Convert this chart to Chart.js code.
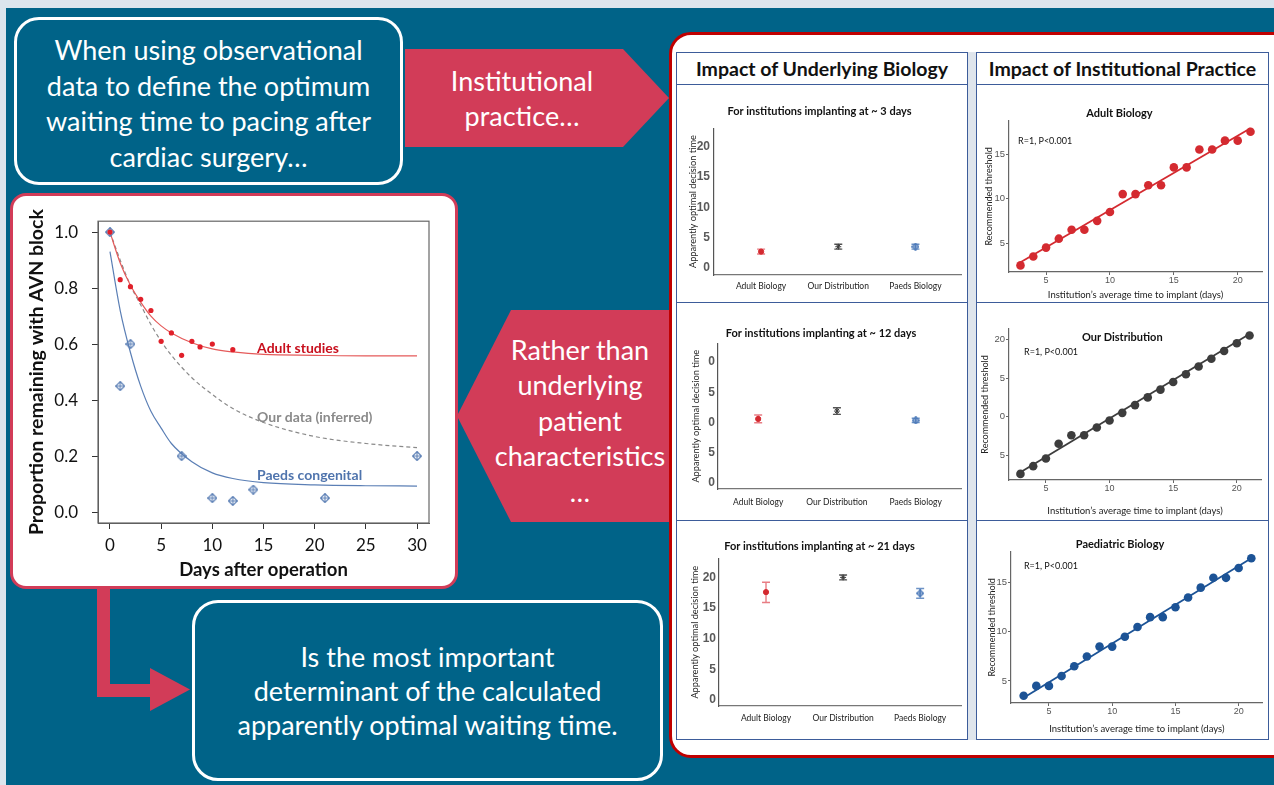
<!DOCTYPE html>
<html>
<head>
<meta charset="utf-8">
<script src="https://cdn.jsdelivr.net/npm/chart.js@4.4.0/dist/chart.umd.min.js"></script>
<style>
body { margin: 0; width: 1274px; height: 785px; overflow: hidden; background: #dce5ed; font-family: Lato, sans-serif; position: relative; }
.abs { position: absolute; box-sizing: border-box; }
#bg { left: 6px; top: 8px; width: 1268px; height: 777px; background: #006388; }
.box { border: 3px solid #fff; border-radius: 25px; color: #fff; display: flex; align-items: center; justify-content: center; text-align: center; font-size: 27px; line-height: 35.5px; white-space: nowrap; }
.arrow { background: #d23c58; color: #fff; display: flex; align-items: center; justify-content: center; text-align: center; font-size: 27px; line-height: 35.5px; white-space: nowrap; }
.bar { background: #d23c58; }
.cell { border: 1.5px solid #3d5c9a; background: #fff; }
.head { display: flex; align-items: center; justify-content: center; font-weight: 700; font-size: 19.5px; color: #111; white-space: nowrap; }
canvas { position: absolute; }
</style>
</head>
<body>
<div class="abs" id="bg"></div>

<div class="abs box" style="left:14px;top:17px;width:389px;height:168px;padding-top:4px;">When using observational<br>data to define the optimum<br>waiting time to pacing after<br>cardiac surgery…</div>

<div class="abs arrow" style="left:405px;top:49px;width:264px;height:98px;padding-right:30px;clip-path:polygon(0 0,218px 0,100% 50%,218px 100%,0 100%);">Institutional<br>practice…</div>

<div class="abs" style="left:10px;top:193px;width:448px;height:396px;background:#fff;border:3px solid #d23c58;border-radius:16px;"></div>

<div class="abs arrow" style="left:457px;top:310px;width:212px;height:212px;padding-left:34px;padding-top:9px;clip-path:polygon(0 50%,54px 0,100% 0,100% 100%,54px 100%);">Rather than<br>underlying<br>patient<br>characteristics<br>…</div>

<div class="abs bar" style="left:97px;top:588px;width:13px;height:109px;"></div>
<div class="abs bar" style="left:97px;top:684px;width:55px;height:13px;"></div>
<div class="abs bar" style="left:150px;top:668px;width:40px;height:43px;clip-path:polygon(0 0,100% 50%,0 100%);"></div>

<div class="abs box" style="left:192px;top:600px;width:471px;height:181px;border-radius:26px;line-height:34px;">Is the most important<br>determinant of the calculated<br>apparently optimal waiting time.</div>

<div class="abs" style="left:669px;top:32px;width:640px;height:726px;background:#fff;border:3px solid #c00000;border-radius:22px;"></div>
<div class="abs" style="left:968px;top:52px;width:8px;height:688px;background:#dfe5ec;"></div>
<div class="abs cell head" style="left:676px;top:52px;width:292px;height:33px;">Impact of Underlying Biology</div>
<div class="abs cell head" style="left:976px;top:52px;width:293px;height:33px;">Impact of Institutional Practice</div>
<div class="abs cell" style="left:676px;top:84px;width:292px;height:219px;"></div>
<div class="abs cell" style="left:676px;top:302px;width:292px;height:219px;"></div>
<div class="abs cell" style="left:676px;top:520px;width:292px;height:220px;"></div>
<div class="abs cell" style="left:976px;top:84px;width:293px;height:219px;"></div>
<div class="abs cell" style="left:976px;top:302px;width:293px;height:219px;"></div>
<div class="abs cell" style="left:976px;top:520px;width:293px;height:220px;"></div>

<canvas id="cBig" width="440" height="388" style="left:14px;top:197px;"></canvas>
<canvas id="cL1" width="289" height="215" style="left:677px;top:86px;"></canvas>
<canvas id="cL2" width="289" height="216" style="left:677px;top:303px;"></canvas>
<canvas id="cL3" width="289" height="218" style="left:677px;top:521px;"></canvas>
<canvas id="cR1" width="290" height="215" style="left:977px;top:86px;"></canvas>
<canvas id="cR2" width="290" height="216" style="left:977px;top:303px;"></canvas>
<canvas id="cR3" width="290" height="218" style="left:977px;top:521px;"></canvas>

<script>
// survival plot (left)
const adultDays = [0, 1, 2, 3, 4, 5, 6, 7, 8, 8.8, 10, 12];
const adultProp = [1.0, 0.83, 0.805, 0.76, 0.72, 0.61, 0.64, 0.56, 0.61, 0.59, 0.60, 0.58];
const paedsDays = [0, 1, 2, 7, 10, 12, 14, 21, 30];
const paedsProp = [1.0, 0.45, 0.60, 0.20, 0.05, 0.04, 0.08, 0.05, 0.20];
const fitDays = [0, 1, 2, 3, 4, 5, 6, 8, 10, 12, 15, 20, 25, 30];
const adultFit = [1.0, 0.89, 0.81, 0.75, 0.70, 0.665, 0.64, 0.605, 0.583, 0.572, 0.563, 0.56, 0.558, 0.558];
const oursFit = [1.0, 0.90, 0.81, 0.74, 0.67, 0.61, 0.56, 0.48, 0.42, 0.37, 0.32, 0.27, 0.245, 0.23];
const paedsFit = [0.93, 0.72, 0.57, 0.45, 0.36, 0.30, 0.245, 0.18, 0.14, 0.12, 0.105, 0.097, 0.094, 0.093];
const bigXTicks = [0, 5, 10, 15, 20, 25, 30];
const bigYTicks = [0, 0.2, 0.4, 0.6, 0.8, 1.0];

// decision time by biology
const biologies = ['Adult Biology', 'Our Distribution', 'Paeds Biology'];
const day3Mid = [2.7, 3.5, 3.5];
const day3Lo = [2.3, 3.1, 3.1];
const day3Hi = [3.1, 3.9, 3.9];
const day12Mid = [10.6, 11.9, 10.35];
const day12Lo = [9.97, 11.35, 10.0];
const day12Hi = [11.25, 12.45, 10.7];
const day21Mid = [17.6, 20.0, 17.4];
const day21Lo = [15.9, 19.6, 16.6];
const day21Hi = [19.2, 20.4, 18.2];
const decisionTicks = [0, 5, 10, 15, 20];
const day12TickText = ['0', '5', '0', '5', '0'];

// threshold vs implant time
const implantDays = [3, 4, 5, 6, 7, 8, 9, 10, 11, 12, 13, 14, 15, 16, 17, 18, 19, 20, 21];
const adultThreshold = [2.5, 3.5, 4.5, 5.5, 6.5, 6.5, 7.5, 8.5, 10.5, 10.5, 11.5, 11.5, 13.5, 13.5, 15.5, 15.5, 16.5, 16.5, 17.5];
const oursThreshold = [2.6, 3.6, 4.6, 6.5, 7.6, 7.6, 8.6, 9.5, 10.5, 11.5, 12.5, 13.5, 14.5, 15.5, 16.5, 17.5, 18.5, 19.5, 20.5];
const paedsThreshold = [3.5, 4.5, 4.5, 5.5, 6.5, 7.5, 8.5, 8.5, 9.5, 10.5, 11.5, 11.5, 12.5, 13.5, 14.5, 15.5, 15.5, 16.5, 17.5];
const lineEnds = [3, 21];
const adultLine = [2.85, 17.9];
const oursLine = [2.8, 20.7];
const paedsLine = [3.3, 17.5];
const implantXTicks = [5, 10, 15, 20];
const thresholdTicks = [5, 10, 15];
const oursTicks = [5, 10, 15, 20];
const oursTickText = ['5', '0', '5', '20'];

const RED = '#d42a30';
const GREY = '#3d3d3d';
const BLUE = '#4a78b8';
const DARKBLUE = '#1c5396';

Chart.defaults.font.family = 'Lato';
Chart.defaults.animation = false;
Chart.defaults.plugins.legend.display = false;
Chart.defaults.plugins.tooltip.enabled = false;

const errorBars = {
    id: 'errorBars',
    beforeDatasetsDraw(chart, args, opts) {
        if (!opts.lo) return;
        const {ctx, scales: {x, y}} = chart;
        ctx.save();
        ctx.lineWidth = 1.4;
        opts.lo.forEach((lo, i) => {
            const px = x.getPixelForValue(i);
            const top = y.getPixelForValue(opts.hi[i]);
            const bot = y.getPixelForValue(lo);
            ctx.strokeStyle = opts.colors[i];
            ctx.beginPath();
            ctx.moveTo(px, top); ctx.lineTo(px, bot);
            ctx.moveTo(px - 4, top); ctx.lineTo(px + 4, top);
            ctx.moveTo(px - 4, bot); ctx.lineTo(px + 4, bot);
            ctx.stroke();
        });
        ctx.restore();
    }
};

const notes = {
    id: 'notes',
    afterDraw(chart, args, opts) {
        if (!opts.items) return;
        const {ctx, scales: {x, y}} = chart;
        opts.items.forEach(n => {
            ctx.save();
            ctx.font = n.font;
            ctx.fillStyle = n.color;
            ctx.textAlign = n.align || 'left';
            ctx.textBaseline = 'middle';
            ctx.fillText(n.text, x.getPixelForValue(n.x), y.getPixelForValue(n.y));
            ctx.restore();
        });
    }
};

const frame = {
    id: 'frame',
    afterDraw(chart, args, opts) {
        if (!opts.color) return;
        const {ctx, chartArea: a} = chart;
        ctx.save();
        ctx.strokeStyle = opts.color;
        ctx.lineWidth = 1.2;
        ctx.strokeRect(a.left, a.top, a.right - a.left, a.bottom - a.top);
        ctx.restore();
    }
};

Chart.register(errorBars, notes, frame);

function diamondCross(size, color) {
    const c = document.createElement('canvas');
    c.width = c.height = size;
    const g = c.getContext('2d');
    const h = size / 2;
    g.strokeStyle = color;
    g.lineWidth = 1.1;
    g.beginPath();
    g.moveTo(h, 0.5); g.lineTo(size - 0.5, h); g.lineTo(h, size - 0.5); g.lineTo(0.5, h); g.closePath();
    g.moveTo(h, 0.5); g.lineTo(h, size - 0.5);
    g.moveTo(0.5, h); g.lineTo(size - 0.5, h);
    g.stroke();
    return c;
}

function pts(xs, ys) {
    return xs.map((x, i) => ({x: x, y: ys[i]}));
}

function fixTicks(list) {
    return scale => { scale.ticks = list.map(v => ({value: v})); };
}

// ---- survival plot ----
new Chart(document.getElementById('cBig'), {
    type: 'line',
    data: {
        datasets: [
            {data: pts(adultDays, adultProp), showLine: false, pointRadius: 2.6, pointBackgroundColor: '#e0202a', pointBorderWidth: 0, order: 1},
            {data: pts(paedsDays, paedsProp), showLine: false, pointStyle: diamondCross(10, '#5b7fb5'), order: 2},
            {data: pts(fitDays, adultFit), borderColor: '#e55a5a', borderWidth: 1.2, pointRadius: 0, cubicInterpolationMode: 'monotone', order: 3},
            {data: pts(fitDays, oursFit), borderColor: '#8a8a8a', borderWidth: 1.2, borderDash: [4, 3], pointRadius: 0, cubicInterpolationMode: 'monotone', order: 4},
            {data: pts(fitDays, paedsFit), borderColor: '#5b7fb5', borderWidth: 1.2, pointRadius: 0, cubicInterpolationMode: 'monotone', order: 5},
        ]
    },
    options: {
        responsive: false,
        layout: {padding: {left: 0, top: 21, right: 25, bottom: 0}},
        scales: {
            x: {
                type: 'linear', min: -1.17, max: 31.17,
                afterBuildTicks: fixTicks(bigXTicks),
                afterFit: s => { s.height = 62; },
                grid: {drawOnChartArea: false, tickLength: 6, color: '#333'},
                border: {color: '#555'},
                ticks: {color: '#111', font: {size: 17}, padding: 6},
                title: {display: true, text: 'Days after operation', color: '#111', font: {size: 18.5, weight: 'bold'}, padding: {top: 0, bottom: 4}}
            },
            y: {
                min: -0.039, max: 1.039,
                afterBuildTicks: fixTicks(bigYTicks),
                afterFit: s => { s.width = 84; },
                grid: {drawOnChartArea: false, tickLength: 6, color: '#333'},
                border: {color: '#555'},
                ticks: {color: '#111', font: {size: 17}, padding: 14, callback: v => v.toFixed(1)},
                title: {display: true, text: 'Proportion remaining with AVN block', color: '#111', font: {size: 19.5, weight: 'bold'}, padding: {top: 11, bottom: 0}}
            }
        },
        plugins: {
            frame: {color: '#666'},
            notes: {items: [
                {text: 'Adult studies', x: 14.37, y: 0.583, font: 'bold 14px Lato', color: '#c8101e'},
                {text: 'Our data (inferred)', x: 14.37, y: 0.339, font: 'bold 14px Lato', color: '#8a8a8a'},
                {text: 'Paeds congenital', x: 14.37, y: 0.131, font: 'bold 14px Lato', color: '#4f74ad'},
            ]}
        }
    }
});

// ---- decision time panels ----
function decisionChart(id, cfg) {
    const markers = [
        {style: 'circle', radius: 2.6, bg: RED, border: RED},
        {style: 'star', radius: 3, bg: GREY, border: GREY},
        {style: diamondCross(8, BLUE), radius: 4, bg: BLUE, border: BLUE},
    ];
    return new Chart(document.getElementById(id), {
        type: 'scatter',
        data: {
            datasets: [{
                data: cfg.mid.map((v, i) => ({x: i, y: v})),
                pointStyle: markers.map(m => m.style),
                pointRadius: markers.map(m => m.radius),
                pointBackgroundColor: markers.map(m => m.bg),
                pointBorderColor: markers.map(m => m.border),
                pointBorderWidth: 1
            }]
        },
        options: {
            responsive: false,
            layout: {padding: {left: 0, top: 0, right: cfg.padRight, bottom: 0}},
            scales: {
                x: {
                    type: 'linear', min: cfg.xMin, max: cfg.xMax,
                    afterBuildTicks: fixTicks([0, 1, 2]),
                    afterFit: s => { s.height = cfg.xHeight; },
                    grid: {display: false, drawTicks: false},
                    border: {color: '#777', width: 1.2},
                    ticks: {color: '#222', font: {size: 8.5}, padding: cfg.xPad, callback: v => biologies[v]}
                },
                y: {
                    min: cfg.yMin, max: cfg.yMax,
                    afterBuildTicks: fixTicks(decisionTicks),
                    afterFit: s => { s.width = cfg.yWidth; },
                    grid: {display: false, drawTicks: false},
                    border: {color: '#555', width: 1.2},
                    ticks: {color: '#5a5a5a', font: {family: 'Liberation Sans', size: 12, weight: 'bold'}, padding: cfg.yPad,
                        callback: cfg.tickText ? (v => cfg.tickText[decisionTicks.indexOf(v)]) : (v => v)},
                    title: {display: true, text: 'Apparently optimal decision time', color: '#222', font: {size: 9.2}, padding: {top: cfg.yTitlePad, bottom: 0}}
                }
            },
            plugins: {
                title: {display: true, text: cfg.title, color: '#111', font: {size: 11, weight: 'bold'}, padding: {top: cfg.titleTop, bottom: cfg.titleBottom}},
                errorBars: {lo: cfg.lo, hi: cfg.hi, colors: ['rgba(222,70,80,0.7)', '#555', 'rgba(74,120,184,0.8)']}
            }
        }
    });
}

decisionChart('cL1', {title: 'For institutions implanting at ~ 3 days', mid: day3Mid, lo: day3Lo, hi: day3Hi,
    xMin: -0.61, xMax: 2.59, yMin: -1.15, yMax: 23, padRight: 4, titleTop: 19, titleBottom: 10,
    yWidth: 37, xHeight: 26, yTitlePad: 10.5, yPad: 4, xPad: 6});
decisionChart('cL2', {title: 'For institutions implanting at ~ 12 days', mid: day12Mid, lo: day12Lo, hi: day12Hi, tickText: day12TickText,
    xMin: -0.51, xMax: 2.575, yMin: -1.0, yMax: 23.1, padRight: 1, titleTop: 24, titleBottom: 3.2,
    yWidth: 41, xHeight: 30, yTitlePad: 13.5, yPad: 3, xPad: 8});
decisionChart('cL3', {title: 'For institutions implanting at ~ 21 days', mid: day21Mid, lo: day21Lo, hi: day21Hi,
    xMin: -0.61, xMax: 2.53, yMin: -0.98, yMax: 23.1, padRight: 4, titleTop: 19, titleBottom: 5.2,
    yWidth: 42, xHeight: 33, yTitlePad: 12.5, yPad: 3, xPad: 7});

// ---- threshold panels ----
function thresholdChart(id, cfg) {
    const plugins = {
        title: cfg.title ? {display: true, text: cfg.title, color: '#111', font: {size: 11, weight: 'bold'}, padding: {top: cfg.titleTop, bottom: cfg.titleBottom}} : {display: false},
        notes: {items: cfg.notes}
    };
    return new Chart(document.getElementById(id), {
        type: 'scatter',
        data: {
            datasets: [
                {data: pts(implantDays, cfg.values), pointRadius: 4.3, pointBackgroundColor: cfg.color, pointBorderColor: cfg.color, pointBorderWidth: 0},
                {data: pts(lineEnds, cfg.line), showLine: true, borderColor: cfg.color, borderWidth: 1.8, pointRadius: 0}
            ]
        },
        options: {
            responsive: false,
            layout: {padding: {left: 0, top: cfg.padTop, right: cfg.padRight, bottom: 0}},
            scales: {
                x: {
                    min: cfg.xMin, max: cfg.xMax,
                    afterBuildTicks: fixTicks(implantXTicks),
                    afterFit: s => { s.height = cfg.xHeight; },
                    grid: {drawOnChartArea: false, tickLength: 3, color: '#666'},
                    border: {color: '#666', width: 1.2},
                    ticks: {color: '#555', font: {family: 'Liberation Sans', size: 9}, padding: 0},
                    title: {display: true, text: 'Institution’s average time to implant (days)', color: '#222', font: {size: 9.5}, padding: {top: 0, bottom: cfg.xTitlePad}}
                },
                y: {
                    min: cfg.yMin, max: cfg.yMax,
                    afterBuildTicks: fixTicks(cfg.yTicks),
                    afterFit: s => { s.width = cfg.yWidth; },
                    grid: {drawOnChartArea: false, tickLength: 3, color: '#666'},
                    border: {color: '#666', width: 1.2},
                    ticks: {color: '#555', font: {family: 'Liberation Sans', size: 9.5}, padding: 1,
                        callback: cfg.tickText ? (v => cfg.tickText[cfg.yTicks.indexOf(v)]) : (v => v)},
                    title: {display: true, text: 'Recommended threshold', color: '#222', font: {size: 9}, padding: {top: cfg.yTitlePad, bottom: 0}}
                }
            },
            plugins: plugins
        }
    });
}

thresholdChart('cR1', {title: 'Adult Biology', values: adultThreshold, line: adultLine, color: RED,
    xMin: 2.1, xMax: 21.9, yMin: 1.76, yMax: 18.74, yTicks: thresholdTicks,
    padTop: 0, padRight: 5, titleTop: 21, titleBottom: 0.5, yWidth: 32, xHeight: 29, yTitlePad: 6.5, xTitlePad: 0.5,
    notes: [{text: 'R=1, P<0.001', x: 2.81, y: 16.4, font: '9px Lato', color: '#111'}]});
thresholdChart('cR2', {values: oursThreshold, line: oursLine, color: GREY,
    xMin: 2.1, xMax: 21.9, yMin: 1.81, yMax: 21.35, yTicks: oursTicks, tickText: oursTickText,
    padTop: 26, padRight: 6, yWidth: 32, xHeight: 39, yTitlePad: 3, xTitlePad: 2.5,
    notes: [
        {text: 'Our Distribution', x: 11.0, y: 20.3, font: 'bold 11px Lato', color: '#111', align: 'center'},
        {text: 'R=1, P<0.001', x: 3.28, y: 18.4, font: '9px Lato', color: '#111'}
    ]});
thresholdChart('cR3', {title: 'Paediatric Biology', values: paedsThreshold, line: paedsLine, color: DARKBLUE,
    xMin: 2.0, xMax: 21.9, yMin: 2.76, yMax: 18.16, yTicks: thresholdTicks,
    padTop: 0, padRight: 4, titleTop: 17, titleBottom: 0.5, yWidth: 34, xHeight: 36, yTitlePad: 9.5, xTitlePad: 4.5,
    notes: [{text: 'R=1, P<0.001', x: 3.02, y: 16.7, font: '9px Lato', color: '#111'}]});
</script>
</body>
</html>
